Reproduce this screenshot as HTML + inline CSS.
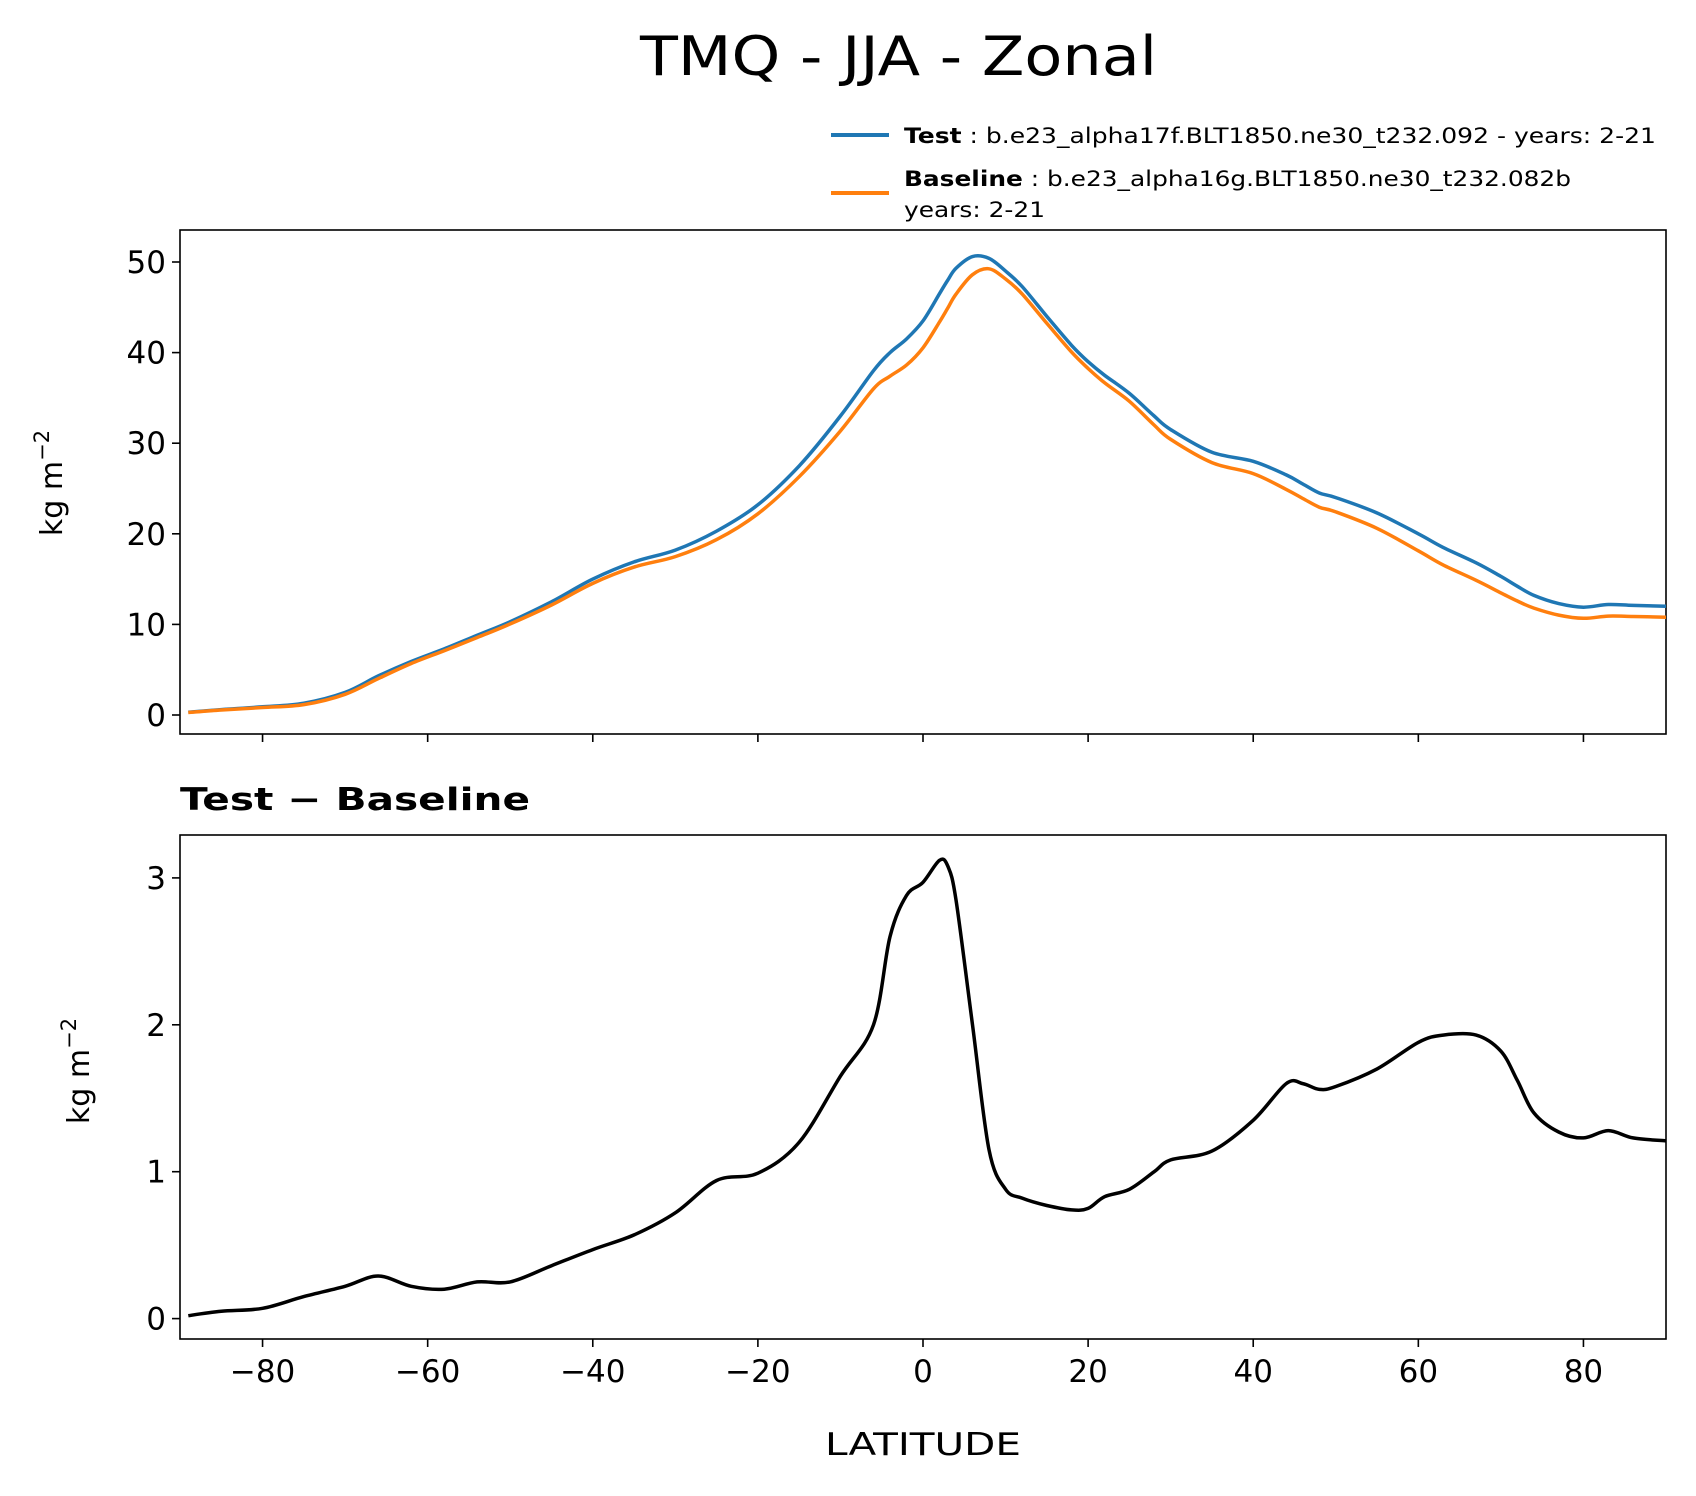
<!DOCTYPE html>
<html><head><meta charset="utf-8"><style>
html,body{margin:0;padding:0;background:#fff}
svg{display:block;font-family:"DejaVu Sans","Liberation Sans",sans-serif}
</style></head><body>
<svg id="chart" width="1696" height="1496" viewBox="0 0 1696 1496">
<text x="640" y="75" font-size="54" textLength="517" lengthAdjust="spacingAndGlyphs">TMQ - JJA - Zonal</text>
<g>
<line x1="831" y1="135" x2="889" y2="135" stroke="#1f77b4" stroke-width="4"/>
<text x="904" y="143" font-size="21" textLength="752" lengthAdjust="spacingAndGlyphs"><tspan font-weight="bold">Test</tspan> : b.e23_alpha17f.BLT1850.ne30_t232.092 - years: 2-21</text>
<line x1="831" y1="193" x2="889" y2="193" stroke="#ff7f0e" stroke-width="4"/>
<text x="904" y="186" font-size="21" textLength="667" lengthAdjust="spacingAndGlyphs"><tspan font-weight="bold">Baseline</tspan> : b.e23_alpha16g.BLT1850.ne30_t232.082b</text>
<text x="904" y="217" font-size="21" textLength="141" lengthAdjust="spacingAndGlyphs">years: 2-21</text>
</g>
<g id="topPanel"></g>
<g id="botPanel"></g>
<text x="180" y="810" font-size="31" font-weight="bold" textLength="350" lengthAdjust="spacingAndGlyphs">Test − Baseline</text>
<text x="825" y="1455" font-size="31" textLength="196" lengthAdjust="spacingAndGlyphs">LATITUDE</text>
<text transform="translate(62,483) rotate(-90)" font-size="30" text-anchor="middle">kg m<tspan dy="-13" font-size="21">−2</tspan></text>
<text transform="translate(89,1071) rotate(-90)" font-size="30" text-anchor="middle">kg m<tspan dy="-13" font-size="21">−2</tspan></text>
</svg>
<script>
const lats=[-89,-85,-80,-75,-70,-66,-62,-58,-54,-50,-45,-40,-35,-30,-25,-20,-15,-10,-6,-4,-2,0,2,3,4,6,8,10,12,15,18,20,22,25,28,30,35,40,44,46,48,50,55,60,63,67,70,72,74,77,80,83,86,90];
const testVals=[0.3,0.6,0.9,1.3,2.5,4.3,5.9,7.3,8.8,10.3,12.5,15,16.9,18.2,20.3,23.2,27.5,33,38,40,41.5,43.5,46.5,48,49.3,50.6,50.4,49,47.3,44,40.8,39,37.5,35.5,33,31.5,29,28,26.5,25.5,24.5,24,22.3,20,18.5,16.8,15.3,14.2,13.2,12.3,11.9,12.2,12.1,12.0];
const baseVals=[0.28,0.55,0.83,1.15,2.28,4.01,5.68,7.1,8.55,10.05,12.14,14.53,16.33,17.48,19.36,22.21,26.3,31.35,36,37.4,38.62,40.53,43.38,44.92,46.45,48.6,49.25,48.12,46.48,43.23,40.06,38.25,36.67,34.62,32,30.42,27.86,26.65,24.9,23.9,22.94,22.42,20.6,18.12,16.57,14.87,13.48,12.58,11.8,11.03,10.67,10.92,10.87,10.79];
const diffVals=[0.02,0.05,0.07,0.15,0.22,0.29,0.22,0.2,0.25,0.25,0.36,0.47,0.57,0.72,0.94,0.99,1.2,1.65,2.0,2.6,2.88,2.97,3.12,3.08,2.85,2.0,1.15,0.88,0.82,0.77,0.74,0.75,0.83,0.88,1.0,1.08,1.14,1.35,1.6,1.6,1.56,1.58,1.7,1.88,1.93,1.93,1.82,1.62,1.4,1.27,1.23,1.28,1.23,1.21];
const xTicks=[-80,-60,-40,-20,0,20,40,60,80];
const topYTicks=[0,10,20,30,40,50];
const botYTicks=[0,1,2,3];
const NS="http://www.w3.org/2000/svg";
const X0=180,X1=1666;
const xs=v=>923+v*(X1-X0)/180;
const topY=v=>715-v*9.06;
const botY=v=>1318.6-v*146.9;
function mk(tag,attrs,parent){const e=document.createElementNS(NS,tag);for(const k in attrs)e.setAttribute(k,attrs[k]);parent.appendChild(e);return e;}
function panel(g,y0,y1,yf,yt,showX,pfx){
  const r=mk('rect',{x:X0,y:y0,width:X1-X0,height:y1-y0,fill:'none',stroke:'#000','stroke-width':1.6},g);
  
  
  xTicks.forEach(t=>{const l=mk('line',{x1:xs(t),x2:xs(t),y1:y1,y2:y1+8,stroke:'#000','stroke-width':1.6},g);
    
    
    if(showX){const tx=mk('text',{x:xs(t),y:y1+43,'font-size':31,'text-anchor':'middle'},g);tx.textContent=(t<0?'−':'')+Math.abs(t);
      
      }
  });
  yt.forEach(t=>{const l=mk('line',{x1:X0-8,x2:X0,y1:yf(t),y2:yf(t),stroke:'#000','stroke-width':1.6},g);
    
    
    const tx=mk('text',{x:X0-14,y:yf(t)+11,'font-size':31,'text-anchor':'end'},g);tx.textContent=t;
    
    });
}
function drawLine(g,vals,yf,color,name){
  const P=lats.map((l,i)=>[xs(l),yf(vals[i])]);
  let d='M'+P[0][0].toFixed(1)+','+P[0][1].toFixed(1);
  for(let i=0;i<P.length-1;i++){
    const p0=P[Math.max(0,i-1)],p1=P[i],p2=P[i+1],p3=P[Math.min(P.length-1,i+2)];
    const c1=[p1[0]+(p2[0]-p0[0])/6,p1[1]+(p2[1]-p0[1])/6],c2=[p2[0]-(p3[0]-p1[0])/6,p2[1]-(p3[1]-p1[1])/6];
    d+=' C'+c1[0].toFixed(1)+','+c1[1].toFixed(1)+' '+c2[0].toFixed(1)+','+c2[1].toFixed(1)+' '+p2[0].toFixed(1)+','+p2[1].toFixed(1);
  }
  const p=mk('path',{d:d,fill:'none',stroke:color,'stroke-width':3.5,'stroke-linejoin':'round'},g);
  
  
}
const gTop=document.getElementById('topPanel'),gBot=document.getElementById('botPanel');
panel(gTop,230,734,topY,topYTicks,false,'top');
drawLine(gTop,testVals,topY,'#1f77b4','test-line');
drawLine(gTop,baseVals,topY,'#ff7f0e','baseline-line');
panel(gBot,835,1339,botY,botYTicks,true,'bottom');
drawLine(gBot,diffVals,botY,'#000','difference-line');
</script>
</body></html>
